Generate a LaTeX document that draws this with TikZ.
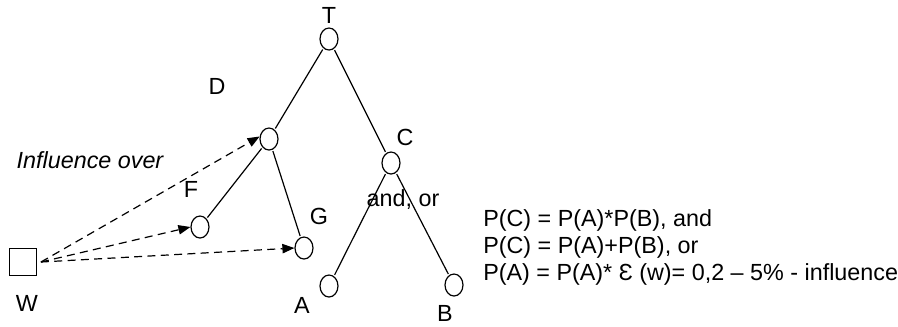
\documentclass[tikz,border=0pt]{standalone}
\usepackage{fontspec}
\setmainfont{Liberation Sans}
\usepackage{tikz}
\usetikzlibrary{arrows.meta,shapes.geometric,positioning}
\tikzset{
  event/.style={ellipse,draw,line width=0.9pt,minimum width=13.5pt,minimum height=16.5pt,inner sep=0pt},
  actor/.style={rectangle,draw,line width=0.9pt,minimum size=20pt,inner sep=0pt},
  branch/.style={line width=0.9pt,shorten <=1pt,shorten >=1pt},
  infl/.style={dashed,dash pattern=on 6pt off 4pt,line width=0.9pt,-{Triangle[length=9pt,width=7pt]}},
  lbl/.style={inner sep=0pt},
  every node/.style={font=\fontsize{17.5}{20}\selectfont}
}

\begin{document}
\begin{tikzpicture}[x=0.75pt,y=-0.75pt]
  \useasboundingbox (0,0) rectangle (898,326);
  % tree of events
  \node[event] (T) at (329,39) {};
  \node[event] (D) at (269,139) {};
  \node[event] (C) at (391,163) {};
  \node[event] (F) at (200,227) {};
  \node[event] (G) at (304,248) {};
  \node[event] (A) at (329,286) {};
  \node[event] (B) at (454,285) {};
  \node[actor] (W) at (23,262) {};
  % labels
  \node[lbl] (lT) at (329,15) {T};
  \node[lbl] (lD) at (217,86) {D};
  \node[lbl] (lC) at (405,137) {C};
  \node[lbl] (lF) at (191,189) {F};
  \node[lbl] (lG) at (319,216) {G};
  \node[lbl] (lA) at (302,305) {A};
  \node[lbl] (lB) at (445,313) {B};
  \node[lbl] (lW) at (27,303) {W};
  \node[lbl] (lgate) at (403,200) {and, or};
  \node[lbl,font=\fontsize{17.5}{20}\selectfont\itshape] (linfl) at (90,160) {Influence over};
  \draw[branch] (T) -- (D);
  \draw[branch] (T) -- (C);
  \draw[branch] (D) -- (F);
  \draw[branch] (D) -- (G);
  \draw[branch] (C) -- (A);
  \draw[branch] (C) -- (B);
  % influence of W
  \coordinate (w0) at ([xshift=3pt]W.east);
  \draw[infl] (w0) -- (D.165);
  \draw[infl] (w0) -- (F.west);
  \draw[infl] (w0) -- (G.west);
  % formulas (base = last line)
  \node[lbl,anchor=base west,align=left] (rules) at (483,280)
    {P(C) = P(A)*P(B), and\\
     P(C) = P(A)+P(B), or\\
     P(A) = P(A)* Ɛ (w)= 0,2 – 5\% - influence};
\end{tikzpicture}
\end{document}
